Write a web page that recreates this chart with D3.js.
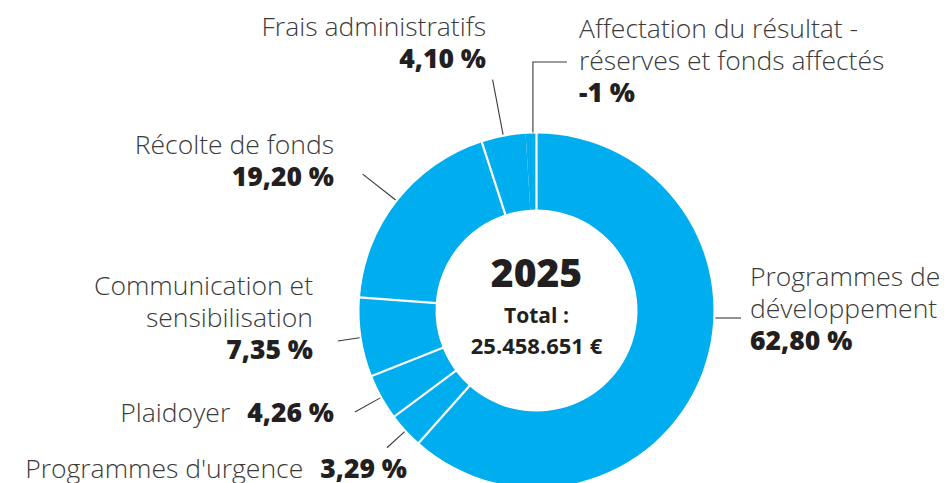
<!DOCTYPE html>
<html>
<head>
<meta charset="utf-8">
<script src="https://cdn.jsdelivr.net/npm/d3@7"></script>
<style>
  html, body { margin: 0; padding: 0; background: #fff; }
  text { font-family: "Open Sans", sans-serif; }
</style>
</head>
<body>
<div id="chart"></div>
<script>
// budget split 2025
const categories = [
  "Programmes de développement",
  "Programmes d'urgence",
  "Plaidoyer",
  "Communication et sensibilisation",
  "Récolte de fonds",
  "Frais administratifs",
  "Affectation du résultat - réserves et fonds affectés"
];
const shares = [62.80, 3.29, 4.26, 7.35, 19.20, 4.10, -1];
const shareLabels = ["62,80 %", "3,29 %", "4,26 %", "7,35 %", "19,20 %", "4,10 %", "-1 %"];
const year = "2025";
const totalLabel = "25.458.651 €";

// label placement (text lines, anchor, leader style)
const labelLayout = [
  { lines: ["Programmes de", "développement"], x: 750, y: 286, anchor: "start", leader: { kind: "h", y: 318, x2: 741 } },
  { inline: true, x: 407, y: 478, leader: { kind: "radial", len: 24 } },
  { inline: true, x: 334, y: 422, leader: { kind: "radial", len: 29 } },
  { lines: ["Communication et", "sensibilisation"], x: 313, y: 295, anchor: "end", leader: { kind: "radial", len: 22 } },
  { lines: ["Récolte de fonds"], x: 334, y: 154, anchor: "end", leader: { kind: "radial", len: 42 } },
  { lines: ["Frais administratifs"], x: 486, y: 36, anchor: "end", leader: { kind: "radial", len: 56 } },
  { lines: ["Affectation du résultat -", "réserves et fonds affectés"], x: 579, y: 38, anchor: "start", leader: { kind: "elbow", y: 62, x2: 567 } }
];

const w = 944, h = 483;
const cx = 536.5, cy = 310.5;
const rOuter = 177, rInner = 101;
const blue = "#00aeef";
const lineH = 32;
const fs = 26.5;

const svg = d3.select("#chart").append("svg")
  .attr("width", w)
  .attr("height", h);

const pie = d3.pie().sort(null).value(d => Math.abs(d));
const arcs = pie(shares);
const arc = d3.arc().innerRadius(rInner).outerRadius(rOuter);

const g = svg.append("g").attr("transform", `translate(${cx},${cy})`);

g.selectAll("path.slice")
  .data(arcs)
  .join("path")
  .attr("class", "slice")
  .attr("d", arc)
  .attr("fill", blue);

// white separators (negative share merges visually with its neighbour)
const pt = (a, r) => [r * Math.sin(a), -r * Math.cos(a)];
g.selectAll("line.sep")
  .data(arcs.filter(d => d.data >= 0))
  .join("line")
  .attr("class", "sep")
  .attr("x1", d => pt(d.startAngle, rInner - 1)[0])
  .attr("y1", d => pt(d.startAngle, rInner - 1)[1])
  .attr("x2", d => pt(d.startAngle, rOuter + 1)[0])
  .attr("y2", d => pt(d.startAngle, rOuter + 1)[1])
  .attr("stroke", "#fff")
  .attr("stroke-width", 2.2);

// leaders
arcs.forEach((d, i) => {
  const L = labelLayout[i].leader;
  const mid = (d.startAngle + d.endAngle) / 2;
  let pts;
  if (L.kind === "radial") {
    pts = [pt(mid, rOuter + 2), pt(mid, rOuter + 2 + L.len)];
  } else if (L.kind === "h") {
    const dy = L.y - cy;
    const x0 = Math.sqrt(rOuter * rOuter - dy * dy) + 2;
    pts = [[x0, dy], [L.x2 - cx, dy]];
  } else {
    // elbow leader sits on the slice's closing edge
    const p0 = pt(d.endAngle - 0.02, rOuter + 1);
    pts = [p0, [p0[0], L.y - cy], [L.x2 - cx, L.y - cy]];
  }
  g.append("path")
    .attr("d", d3.line()(pts))
    .attr("fill", "none")
    .attr("stroke", "#3a3a3a")
    .attr("stroke-width", 1.1);
});

// labels
const labG = svg.append("g");
labelLayout.forEach((L, i) => {
  if (L.inline) {
    const t = labG.append("text")
      .attr("x", L.x).attr("y", L.y)
      .attr("text-anchor", "end")
      .attr("font-size", fs);
    t.append("tspan").text(categories[i])
      .attr("fill", "#3a3a3a").attr("font-weight", 300);
    t.append("tspan").text(shareLabels[i])
      .attr("dx", 17)
      .attr("fill", "#231f20").attr("font-weight", 800);
    return;
  }
  const t = labG.append("text")
    .attr("x", L.x).attr("y", L.y)
    .attr("text-anchor", L.anchor)
    .attr("font-size", fs);
  L.lines.forEach((s, k) => {
    t.append("tspan").attr("x", L.x).attr("dy", k ? lineH : 0)
      .attr("fill", "#3a3a3a").attr("font-weight", 300).text(s);
  });
  t.append("tspan").attr("x", L.x).attr("dy", lineH)
    .attr("fill", "#231f20").attr("font-weight", 800).text(shareLabels[i]);
});

// centre
const c = svg.append("g").attr("text-anchor", "middle").attr("fill", "#231f20");
c.append("text").attr("x", cx).attr("y", 287)
  .attr("font-size", 39).attr("font-weight", 800).text(year);
c.append("text").attr("x", cx).attr("y", 323)
  .attr("font-size", 21).attr("font-weight", 700).text("Total :");
c.append("text").attr("x", cx).attr("y", 354)
  .attr("font-size", 22).attr("font-weight", 700).text(totalLabel);
</script>
</body>
</html>
